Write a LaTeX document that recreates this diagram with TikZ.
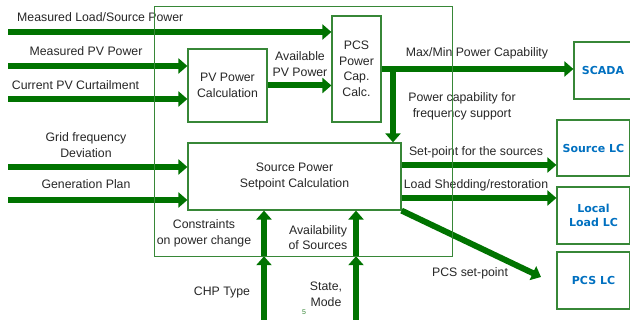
\documentclass[tikz,border=0pt]{standalone}
\usepackage{fontspec}
\setmainfont{Liberation Sans}
\newfontfamily\boxfont{DejaVu Sans}
\usetikzlibrary{arrows.meta}
\definecolor{flowgreen}{RGB}{0,115,0}
\definecolor{framegreen}{RGB}{55,135,55}
\definecolor{lcblue}{RGB}{0,112,192}
\newcommand\lbfont{\fontsize{12.3}{15.5}\selectfont}
\newcommand\lcfont{\boxfont\bfseries\fontsize{11}{14}\selectfont}

\begin{document}
\begin{tikzpicture}[x=1pt,y=-1pt,
  flow/.style={draw=flowgreen, line width=6pt, -{Triangle[length=9pt,width=15pt]}},
  blk/.style={draw=framegreen, line width=1.2pt, align=center, inner sep=0pt, font=\lbfont, text=black!85},
  lcbox/.style={blk, text=lcblue, font=\lcfont},
  lbl/.style={align=center, inner sep=0pt, font=\lbfont, text=black!85}]
  \clip (0,0) rectangle (630,320);
  % Control frame
  \node[inner sep=0pt, minimum width=297pt, minimum height=249pt] (ctrl) at (303.5,131.5) {};
  % Blocks
  \node[blk, minimum width=79pt, minimum height=73pt] (pv) at (227.5,85.5) {PV Power\\Calculation};
  \node[blk, minimum width=49pt, minimum height=106pt] (pcs) at (356.5,69) {PCS\\Power\\Cap.\\Calc.};
  \node[blk, minimum width=213pt, minimum height=67pt] (src) at (294.5,176.5) {Source Power\\Setpoint Calculation};
  % Local controllers
  \node[lcbox, minimum width=58pt, minimum height=57pt] (scada) at (603,70.5) {SCADA};
  \node[lcbox, minimum width=73pt, minimum height=56pt] (slc) at (593.5,148) {Source LC};
  \node[lcbox, minimum width=73pt, minimum height=57pt] (llc) at (593.5,215.5) {Local\\Load LC};
  \node[lcbox, minimum width=73pt, minimum height=57pt] (plc) at (593.5,280.5) {PCS LC};
  % Inputs
  \coordinate (inLoad) at (8,32);
  \coordinate (inPV) at (8,66);
  \coordinate (inCurt) at (8,99);
  \coordinate (inFreq) at (8,167);
  \coordinate (inPlan) at (8,200);
  \draw[flow] (inLoad) -- (inLoad -| pcs.west);
  \draw[flow] (inPV) -- (inPV -| pv.west);
  \draw[flow] (inCurt) -- (inCurt -| pv.west);
  \draw[flow] (inFreq) -- (inFreq -| src.west);
  \draw[flow] (inPlan) -- (inPlan -| src.west);
  % Internal flows
  \draw[flow] (pv.east) -- (pv.east -| pcs.west);
  \draw[flow] (pcs.east) -- (pcs.east -| scada.west);
  \coordinate (capSplit) at (393,69);
  \draw[flow] (capSplit) -- (capSplit |- src.north);
  % Outputs
  \draw[flow] ([yshift=11.5pt]src.east) -- ([yshift=11.5pt]src.east -| slc.west);
  \draw[flow] ([yshift=-21.5pt]src.east) -- ([yshift=-21.5pt]src.east -| llc.west);
  \coordinate (pcsTip) at (541,277);
  \draw[flow] (src.south east) -- (pcsTip);
  % Bottom inputs
  \coordinate (chpIn) at (264,322);
  \coordinate (stateIn) at (356,322);
  \draw[flow] (chpIn) -- (chpIn |- ctrl.south);
  \draw[flow] (chpIn |- ctrl.south) -- (chpIn |- src.south);
  \draw[flow] (stateIn) -- (stateIn |- ctrl.south);
  \draw[flow] (stateIn |- ctrl.south) -- (stateIn |- src.south);
  % Labels
  \node[lbl, anchor=west] (lLoad) at (17,17) {Measured Load/Source Power};
  \node[lbl] (lPV) at (86,51) {Measured PV Power};
  \node[lbl] (lCurt) at (75.5,85) {Current PV Curtailment};
  \node[lbl] (lFreq) at (86,145) {Grid frequency\\Deviation};
  \node[lbl] (lPlan) at (86,184) {Generation Plan};
  \node[lbl] (lAvail) at (300,64) {Available\\PV Power};
  \node[lbl] (lMax) at (477,53) {Max/Min Power Capability};
  \node[lbl] (lCap) at (462,106.5) {Power capability for\\frequency support};
  \node[lbl] (lSet) at (476,152) {Set-point for the sources};
  \node[lbl] (lShed) at (476,185) {Load Shedding/restoration};
  \node[lbl] (lPcs) at (470,273) {PCS set-point};
  \node[lbl] (lCons) at (204,233.5) {Constraints\\on power change};
  \node[lbl] (lAvSrc) at (318,237.5) {Availability\\of Sources};
  \node[lbl] (lChp) at (222,292) {CHP Type};
  \node[lbl] (lState) at (326,294.5) {State,\\Mode};
  \node[font=\fontsize{7}{8}\selectfont, text=framegreen, inner sep=0pt] (pgnum) at (304,312) {5};
  % Frame on top
  \draw[framegreen, line width=1.2pt] (ctrl.north west) rectangle (ctrl.south east);
\end{tikzpicture}
\end{document}
